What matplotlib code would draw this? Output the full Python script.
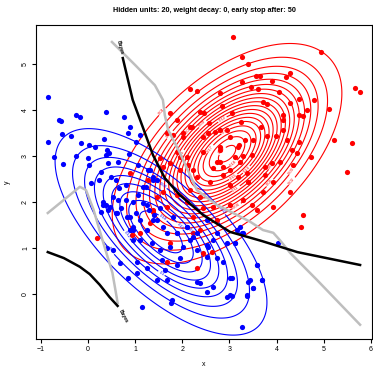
import numpy as np
import matplotlib
matplotlib.use("Agg")
import matplotlib.pyplot as plt

plt.rcParams['font.family'] = ['Liberation Sans', 'DejaVu Sans']

# class means / covariances of the two Gaussian classes
red_mean = [2.95, 3.05]
red_cov = [[1.0, 0.54], [0.54, 0.97]]
blue_mean = [1.55, 1.35]
blue_cov = [[1.1, -0.75], [-0.75, 1.1]]

red_levels = [0.01, 0.02, 0.03, 0.04, 0.05, 0.06, 0.07, 0.08, 0.09, 0.10,
              0.11, 0.12, 0.13, 0.14, 0.15, 0.16, 0.17, 0.18, 0.19]
blue_levels = [0.02, 0.04, 0.06, 0.08, 0.10, 0.12, 0.14, 0.16, 0.18]

red_x = [3.08, 4.94, 3.27, 3.40, 5.67, 5.77, 4.80, 5.11, 5.22, 5.60, 5.50, 2.16, 2.31,
         2.80, 3.27, 3.56, 3.65, 3.90, 4.20, 4.29, 4.05, 3.46, 3.61, 4.48, 4.29, 4.65,
         4.56, 4.48, 3.71, 3.80, 2.84, 2.38, 2.46, 3.06, 4.14, 4.14, 2.57, 3.25, 3.67,
         4.14, 4.22, 4.48, 3.99, 2.95, 2.69, 2.21, 2.01, 2.44, 3.33, 3.50, 3.80, 3.20,
         2.80, 3.12, 3.29, 3.48, 4.43, 4.33, 4.73, 4.35, 4.07, 3.76, 3.90, 2.80, 2.87,
         3.01, 3.18, 3.76, 3.93, 3.40, 2.65, 2.23, 2.12, 1.95,
         1.80, 2.01, 2.16, 2.55, 2.80, 3.01, 2.80, 3.18, 2.44, 2.10, 1.89, 1.74, 1.95,
         2.31, 2.59, 3.01, 2.86, 2.74, 3.23, 3.37, 2.16, 2.38, 2.44, 2.10, 1.89, 1.59,
         1.46, 1.67, 1.38, 1.31, 1.10, 2.23, 2.74, 2.38, 1.74, 3.01, 2.65,
         1.74, 1.89, 1.67, 1.53, 0.89, 1.27, 1.59, 1.38, 0.19, 0.93, 1.67, 2.23, 2.31,
         2.44, 2.63, 4.56, 4.52, 3.29, 3.48, 3.59, 3.93, 3.71, 4.29]
red_y = [5.59, 5.26, 5.15, 5.00, 4.48, 4.39, 4.22, 4.02, 3.35, 3.28, 2.65, 4.46, 4.41,
         4.37, 4.61, 4.74, 4.74, 4.63, 4.72, 4.80, 4.39, 4.50, 4.46, 4.24, 4.15, 4.00,
         3.87, 3.89, 4.17, 4.13, 4.09, 3.96, 3.93, 3.93, 3.89, 3.78, 3.72, 3.74, 3.63,
         3.57, 3.35, 3.30, 3.43, 3.57, 3.52, 3.63, 3.50, 3.41, 3.35, 3.35, 3.43, 3.24,
         3.13, 2.98, 3.00, 3.02, 3.07, 3.13, 2.98, 2.80, 2.87, 2.76, 2.85, 2.87, 2.76,
         2.70, 2.54, 2.59, 2.43, 2.43, 2.74, 2.70, 2.80, 2.98,
         3.46, 3.41, 3.63, 3.50, 3.57, 3.41, 3.20, 3.20, 3.09, 2.98, 3.09, 2.85, 2.70,
         2.54, 2.43, 2.37, 2.59, 2.87, 2.87, 2.63, 2.26, 2.11, 1.87, 2.00, 2.15, 2.22,
         2.11, 1.89, 1.78, 1.54, 1.33, 1.67, 1.61, 1.39, 1.11, 1.93, 1.89,
         3.93, 3.78, 3.50, 2.96, 2.63, 2.48, 2.76, 1.83, 1.22, 1.28, 0.70, 1.33, 0.57,
         0.89, 0.91, 1.72, 1.46, 2.04, 1.93, 1.83, 1.89, 2.22, 2.22]

blue_x = [0.38, -0.26, -0.17, -0.58, 0.76, -0.85, -0.55, -0.36, -0.72, -0.53, 0.85, 1.02,
          0.34, -0.15, 0.02, 0.15, -0.26, 0.00, 0.40, 0.38, 0.44, 0.02, 0.63, 0.87, 0.42,
          1.06, 0.27, 0.23, 0.49, 0.59, 0.06, 0.66, 0.80, 0.53, 0.63, 0.80, 0.32, 0.38,
          0.27, 0.70, 0.59, 1.27, 1.38, 1.23, 1.06, 1.17, 1.02, 1.29, 1.40, 0.42,
          0.40, 0.53, 0.68, 0.85, 1.14, 1.78, 3.27, 0.89, 0.95, 1.04, 1.25, 1.46, 1.63,
          1.68, 1.95, 1.57, 1.89, 2.31, 2.38, 2.52, 2.65, 3.01, 2.95, 3.37, 3.50, 3.40,
          3.69, 3.59, 3.01, 2.86, 2.74, 2.52, 2.31, 2.55, 2.65, 2.95, 3.12, 3.29, 3.16,
          1.25, 1.46, 1.68, 1.89, 2.10, 2.31, 2.16, 2.01, 1.74, 1.53, 1.36, 1.10, 0.95,
          0.89, 0.61, 0.46, 0.32,
          4.03, 3.22, 3.27, 3.12, 3.05, 3.59, 3.69, 3.44, 3.50, 3.37, 3.06,
          0.89, 1.10, 1.31, 1.38, 1.46, 1.17, 0.95, 1.25, 1.53, 1.80, 2.10, 2.23, 2.52,
          1.59, 1.38, 1.10, 1.89, 2.74, 2.52, 0.95, 0.83, 1.04, -0.85, -0.62, 1.76]
blue_y = [3.96, 3.89, 3.85, 3.76, 3.85, 3.30, 3.48, 3.43, 2.98, 2.83, 3.50, 3.30,
          3.37, 3.28, 3.24, 3.20, 3.00, 2.96, 3.13, 3.02, 3.07, 2.80, 2.87, 3.04, 2.85,
          2.80, 2.65, 2.48, 2.54, 2.48, 2.41, 2.30, 2.37, 2.11, 2.04, 2.04, 2.00, 1.93,
          1.78, 1.87, 1.76, 2.70, 2.48, 2.33, 2.15, 1.98, 1.76, 1.83, 1.72, 1.83,
          1.00, 0.96, 0.67, 0.35, -0.28, -0.13, -0.72, 1.39, 1.17, 0.70, 0.57, 0.30, 0.52,
          0.30, 0.78, 0.74, 0.63, 0.26, 0.24, 0.04, 0.15, -0.02, -0.07, -0.02, 0.13, 0.26,
          0.30, 0.63, 0.35, 0.70, 0.78, 0.80, 0.96, 1.02, 1.17, 1.11, 1.11, 1.33, 1.39,
          1.39, 1.61, 1.33, 1.33, 1.46, 1.33, 1.17, 1.02, 1.02, 0.96, 1.11, 1.17, 1.46,
          1.67, 1.76, 1.89, 1.93,
          1.11, 1.46, 1.33, 1.11, 0.35, 0.63, 0.30, 0.30, 0.13, -0.04, -0.04,
          3.63, 3.46, 2.70, 2.54, 2.48, 2.33, 2.00, 1.93, 1.87, 1.67, 1.46, 1.24, 1.61,
          1.46, 1.61, 1.61, 1.33, 1.33, 1.07, 1.39, 1.67, 0.46, 4.28, 3.78, -0.20]

# neural net decision boundary (two pieces)
nn_upper_x = [0.51, 1.00, 1.42, 1.59, 1.63, 1.70, 1.95, 2.31, 2.74, 3.08, 3.44, 3.71,
              3.93, 4.07, 4.29, 4.86, 5.77]
nn_upper_y = [5.48, 4.98, 4.54, 4.22, 3.89, 3.57, 3.07, 2.26, 1.93, 1.76, 1.57, 1.39,
              1.33, 1.17, 0.89, 0.30, -0.67]
nn_lower_x = [-0.85, -0.17, -0.04, 0.12, 0.31, 0.52, 0.61, 0.63]
nn_lower_y = [1.76, 2.33, 2.26, 1.83, 1.17, 0.46, -0.07, -0.20]

# Bayes decision boundary (two pieces)
bayes_upper_x = [0.74, 0.95, 1.17, 1.38, 1.63, 1.95, 2.44, 3.01, 3.69, 4.44, 5.77]
bayes_upper_y = [5.13, 4.22, 3.61, 3.02, 2.52, 2.15, 1.72, 1.35, 1.15, 0.91, 0.63]
bayes_lower_x = [-0.85, -0.51, -0.17, 0.04, 0.25, 0.46, 0.63]
bayes_lower_y = [0.91, 0.78, 0.59, 0.43, 0.20, -0.07, -0.26]


def gauss_density(xx, yy, mean, cov):
    cov = np.array(cov)
    inv = np.linalg.inv(cov)
    dx = xx - mean[0]
    dy = yy - mean[1]
    q = inv[0, 0] * dx * dx + 2 * inv[0, 1] * dx * dy + inv[1, 1] * dy * dy
    return np.exp(-0.5 * q) / (2 * np.pi * np.sqrt(np.linalg.det(cov)))


fig = plt.figure(figsize=(3.73, 3.67), dpi=100)
ax = fig.add_axes([0.0965, 0.0763, 0.9005, 0.8557])

gx, gy = np.meshgrid(np.linspace(-1.1, 6.02, 400), np.linspace(-0.98, 5.85, 400))
f_red = gauss_density(gx, gy, red_mean, red_cov)
f_blue = gauss_density(gx, gy, blue_mean, blue_cov)

fmt = lambda v: f'{v:g}'
cs_r = ax.contour(gx, gy, f_red, levels=red_levels, colors='red', linewidths=0.8)
ax.clabel(cs_r, fmt=fmt, fontsize=3, inline=True, inline_spacing=1)
cs_b = ax.contour(gx, gy, f_blue, levels=blue_levels, colors='blue', linewidths=0.8)
ax.clabel(cs_b, fmt=fmt, fontsize=3, inline=True, inline_spacing=1)

ax.scatter(red_x, red_y, s=14, color='red', zorder=3, linewidths=0)
ax.scatter(blue_x, blue_y, s=14, color='blue', zorder=3, linewidths=0)

ax.plot(nn_upper_x, nn_upper_y, color='#BEBEBE', lw=1.8, zorder=4)
ax.plot(nn_lower_x, nn_lower_y, color='#BEBEBE', lw=1.8, zorder=4)

ax.plot(bayes_upper_x, bayes_upper_y, color='black', lw=1.8, zorder=5)
ax.plot(bayes_lower_x, bayes_lower_y, color='black', lw=1.8, zorder=5)
ax.text(0.68, 5.36, 'Bayes', fontsize=3.5, fontweight='bold', rotation=-75,
        ha='center', va='center', zorder=6)
ax.text(0.74, -0.48, 'Bayes', fontsize=3.5, fontweight='bold', rotation=-62,
        ha='center', va='center', zorder=6)

ax.set_xlim(-1.1, 6.02)
ax.set_ylim(-0.98, 5.85)
ax.set_xticks(range(-1, 7))
ax.set_yticks(range(0, 6))
ax.set_xticklabels(['\u22121', '0', '1', '2', '3', '4', '5', '6'])
ax.tick_params(labelsize=5, length=3, width=0.8, pad=2)
for lab in ax.get_yticklabels():
    lab.set_rotation(90)
    lab.set_va('center')
for sp in ax.spines.values():
    sp.set_linewidth(0.8)
ax.set_xlabel('x', fontsize=5, labelpad=6)
ax.set_ylabel('y', fontsize=5, labelpad=8)
ax.set_title('Hidden units: 20, weight decay: 0, early stop after: 50',
             fontsize=5.2, fontweight='bold', pad=9)

fig.savefig('out.png', dpi=100)
